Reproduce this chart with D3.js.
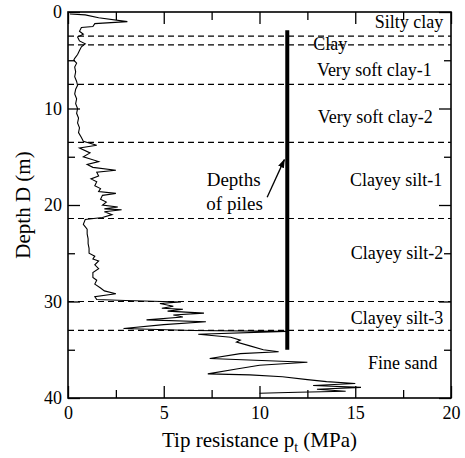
<!DOCTYPE html>
<html>
<head>
<meta charset="utf-8">
<script src="https://cdn.jsdelivr.net/npm/d3@7"></script>
<style>
  html, body { margin: 0; padding: 0; background: #fff; }
  svg { display: block; }
</style>
</head>
<body>
<svg id="chart" width="465" height="458"></svg>
<script>
// ---- Data ----
// CPT tip resistance (MPa) vs depth (m)
const tipResistance = [0.1,0.9,1.6,3.1,1.4,1.3,0.7,0.6,0.8,0.5,0.6,0.9,0.7,0.6,0.5,0.35,0.3,0.45,0.35,0.4,0.35,0.45,0.5,0.4,0.35,0.45,0.4,0.5,0.45,0.55,0.5,0.6,0.55,0.7,0.8,1.5,0.6,1.15,0.8,1.6,1.0,1.3,2.5,1.5,1.6,1.2,1.5,1.4,1.7,1.6,2.5,1.8,1.7,2.0,1.8,2.6,1.9,2.8,1.9,2.3,1.8,0.9,0.8,1.0,1.0,1.05,1.05,1.1,1.1,1.4,1.3,1.6,1.4,1.6,1.3,1.3,1.5,1.4,1.7,1.9,2.5,1.4,1.5,3.0,5.9,4.8,5.5,4.9,6.0,5.2,7.1,5.5,6.0,4.1,7.2,5.0,2.9,6.5,11.4,6.8,8.5,9.0,8.8,9.5,10.2,11.0,9.0,7.4,12.5,10.0,8.8,7.3,9.5,11.2,12.5,13.5,15.0,12.8,15.3,13.0,14.5,12.0,10.0];
const traceDepth = [0.2,0.3,0.6,1.0,1.2,1.5,1.6,2.0,2.3,2.6,3.0,3.3,3.6,4.0,4.4,4.8,5.0,5.3,5.7,6.2,6.7,7.2,7.6,8.0,8.5,9.0,9.5,10.0,10.5,11.0,11.5,12.0,12.5,13.0,13.4,13.8,14.1,14.6,15.0,15.5,15.8,16.1,16.4,16.6,17.0,17.3,17.6,18.0,18.3,18.6,18.8,19.0,19.4,19.7,20.0,20.2,20.4,20.5,20.7,21.0,21.3,21.5,22.0,22.5,23.0,23.5,24.0,24.5,25.0,25.3,25.6,25.8,26.2,26.6,27.0,27.5,27.8,28.2,28.6,28.9,29.2,29.5,29.8,29.9,30.05,30.2,30.5,30.7,30.8,31.0,31.2,31.4,31.6,31.9,32.1,32.4,32.8,33.0,33.1,33.4,33.7,34.0,34.2,34.6,35.0,35.2,35.4,35.9,36.3,36.6,37.0,37.5,37.6,37.8,38.1,38.3,38.5,38.7,38.9,39.1,39.3,39.4,39.5];

// Layer boundaries (m)
const boundaries = [2.5, 3.4, 7.5, 13.5, 21.4, 30.0, 33.0];

// Layer names and the depth at which each name sits
const layerNames  = ["Silty clay","Clay","Very soft clay-1","Very soft clay-2","Clayey silt-1","Clayey silt-2","Clayey silt-3","Fine sand"];
const layerDepths = [1.0, 3.3, 6.0, 10.9, 17.4, 25.0, 31.7, 36.4];
const layerLabelX = [19.6, 13.7, 19.0, 19.05, 19.55, 19.6, 19.6, 19.3];
const layerAnchor = ["end","middle","end","end","end","end","end","end"];

// Pile
const pileX = 11.45;
const pileDepth = [1.9, 35.0];

// Tick values
const xMajor = [0, 5, 10, 15, 20];
const xMinor = [2.5, 7.5, 12.5, 17.5];
const yMajor = [0, 10, 20, 30, 40];
const yMinor = [5, 15, 25, 35];

// ---- Layout ----
const FONT = "'Liberation Serif', 'Times New Roman', Times, Tinos, 'DejaVu Serif', serif";
const L = 68, T = 12, R = 451, B = 398;
const x = d3.scaleLinear().domain([0, 20]).range([L, R]);
const y = d3.scaleLinear().domain([0, 40]).range([T, B]);

const svg = d3.select("#chart").attr("font-family", FONT);

svg.append("defs").append("marker")
  .attr("id", "arrow").attr("viewBox", "0 0 10 10")
  .attr("refX", 9).attr("refY", 5)
  .attr("markerWidth", 9).attr("markerHeight", 9)
  .attr("markerUnits", "userSpaceOnUse")
  .attr("orient", "auto")
  .append("path").attr("d", "M0,1.5 L10,5 L0,8.5 Z").attr("fill", "#000");

// Dashed layer boundaries
svg.append("g").selectAll("line").data(boundaries).join("line")
  .attr("x1", x(0)).attr("x2", x(20))
  .attr("y1", d => y(d)).attr("y2", d => y(d))
  .attr("stroke", "#000").attr("stroke-width", 1.2)
  .attr("stroke-dasharray", "6,4");

// CPT trace
const pts = tipResistance.map((v, i) => [v, traceDepth[i]]);
svg.append("path").datum(pts)
  .attr("fill", "none").attr("stroke", "#000").attr("stroke-width", 1.1)
  .attr("stroke-linejoin", "miter")
  .attr("d", d3.line().x(d => x(d[0])).y(d => y(d[1])));

// Pile line
svg.append("line")
  .attr("x1", x(pileX)).attr("x2", x(pileX))
  .attr("y1", y(pileDepth[0])).attr("y2", y(pileDepth[1]))
  .attr("stroke", "#000").attr("stroke-width", 4);

// Annotation arrow and text
svg.append("line")
  .attr("x1", x(10.4)).attr("y1", y(19.2))
  .attr("x2", x(11.3)).attr("y2", y(15.3))
  .attr("stroke", "#000").attr("stroke-width", 1.3)
  .attr("marker-end", "url(#arrow)");
svg.append("text").attr("x", x(8.65)).attr("y", y(17.4)).attr("dy", "0.33em")
  .attr("font-family", FONT)
  .attr("text-anchor", "middle").attr("font-size", 19).text("Depths");
svg.append("text").attr("x", x(8.7)).attr("y", y(19.9)).attr("dy", "0.33em")
  .attr("font-family", FONT)
  .attr("text-anchor", "middle").attr("font-size", 19).text("of piles");

// Layer labels
svg.append("g").selectAll("text").data(layerNames).join("text")
  .attr("x", (d, i) => x(layerLabelX[i]))
  .attr("y", (d, i) => y(layerDepths[i]))
  .attr("dy", "0.33em")
  .attr("font-family", FONT)
  .attr("text-anchor", (d, i) => layerAnchor[i])
  .attr("font-size", 18)
  .text(d => d);

// Axes
function styleAxis(g) {
  g.attr("font-family", FONT);
  g.select(".domain").remove();
  g.selectAll(".tick line").attr("stroke", "#000").attr("stroke-width", 1.3);
  g.selectAll(".tick text").attr("font-family", FONT).attr("font-size", 18).attr("fill", "#000");
}
svg.append("g").attr("transform", `translate(0,${B})`)
  .call(d3.axisBottom(x).tickValues(xMajor).tickSize(-12).tickPadding(8).tickFormat(d3.format("d")))
  .call(styleAxis);
svg.append("g").attr("transform", `translate(0,${B})`)
  .call(d3.axisBottom(x).tickValues(xMinor).tickSize(-8).tickFormat(""))
  .call(styleAxis);
svg.append("g").attr("transform", `translate(0,${T})`)
  .call(d3.axisTop(x).tickValues(xMajor).tickSize(-12).tickFormat(""))
  .call(styleAxis);
svg.append("g").attr("transform", `translate(0,${T})`)
  .call(d3.axisTop(x).tickValues(xMinor).tickSize(-8).tickFormat(""))
  .call(styleAxis);
svg.append("g").attr("transform", `translate(${L},0)`)
  .call(d3.axisLeft(y).tickValues(yMajor).tickSize(-12).tickPadding(6).tickFormat(d3.format("d")))
  .call(styleAxis);
svg.append("g").attr("transform", `translate(${L},0)`)
  .call(d3.axisLeft(y).tickValues(yMinor).tickSize(-7).tickFormat(""))
  .call(styleAxis);
svg.append("g").attr("transform", `translate(${R},0)`)
  .call(d3.axisRight(y).tickValues(yMajor).tickSize(-12).tickFormat(""))
  .call(styleAxis);
svg.append("g").attr("transform", `translate(${R},0)`)
  .call(d3.axisRight(y).tickValues(yMinor).tickSize(-7).tickFormat(""))
  .call(styleAxis);

// Frame
svg.append("rect").attr("x", L).attr("y", T).attr("width", R - L).attr("height", B - T)
  .attr("fill", "none").attr("stroke", "#000").attr("stroke-width", 1.6);

// Axis titles
const xt = svg.append("text").attr("x", (L + R) / 2).attr("y", 447)
  .attr("font-family", FONT)
  .attr("text-anchor", "middle").attr("font-size", 21);
xt.append("tspan").text("Tip resistance p");
xt.append("tspan").attr("font-size", 14).attr("dy", 5).text("t");
xt.append("tspan").attr("dy", -5).text(" (MPa)");

svg.append("text")
  .attr("transform", `translate(30,${(T + B) / 2}) rotate(-90)`)
  .attr("font-family", FONT)
  .attr("text-anchor", "middle").attr("font-size", 21)
  .text("Depth D (m)");
</script>
</body>
</html>
